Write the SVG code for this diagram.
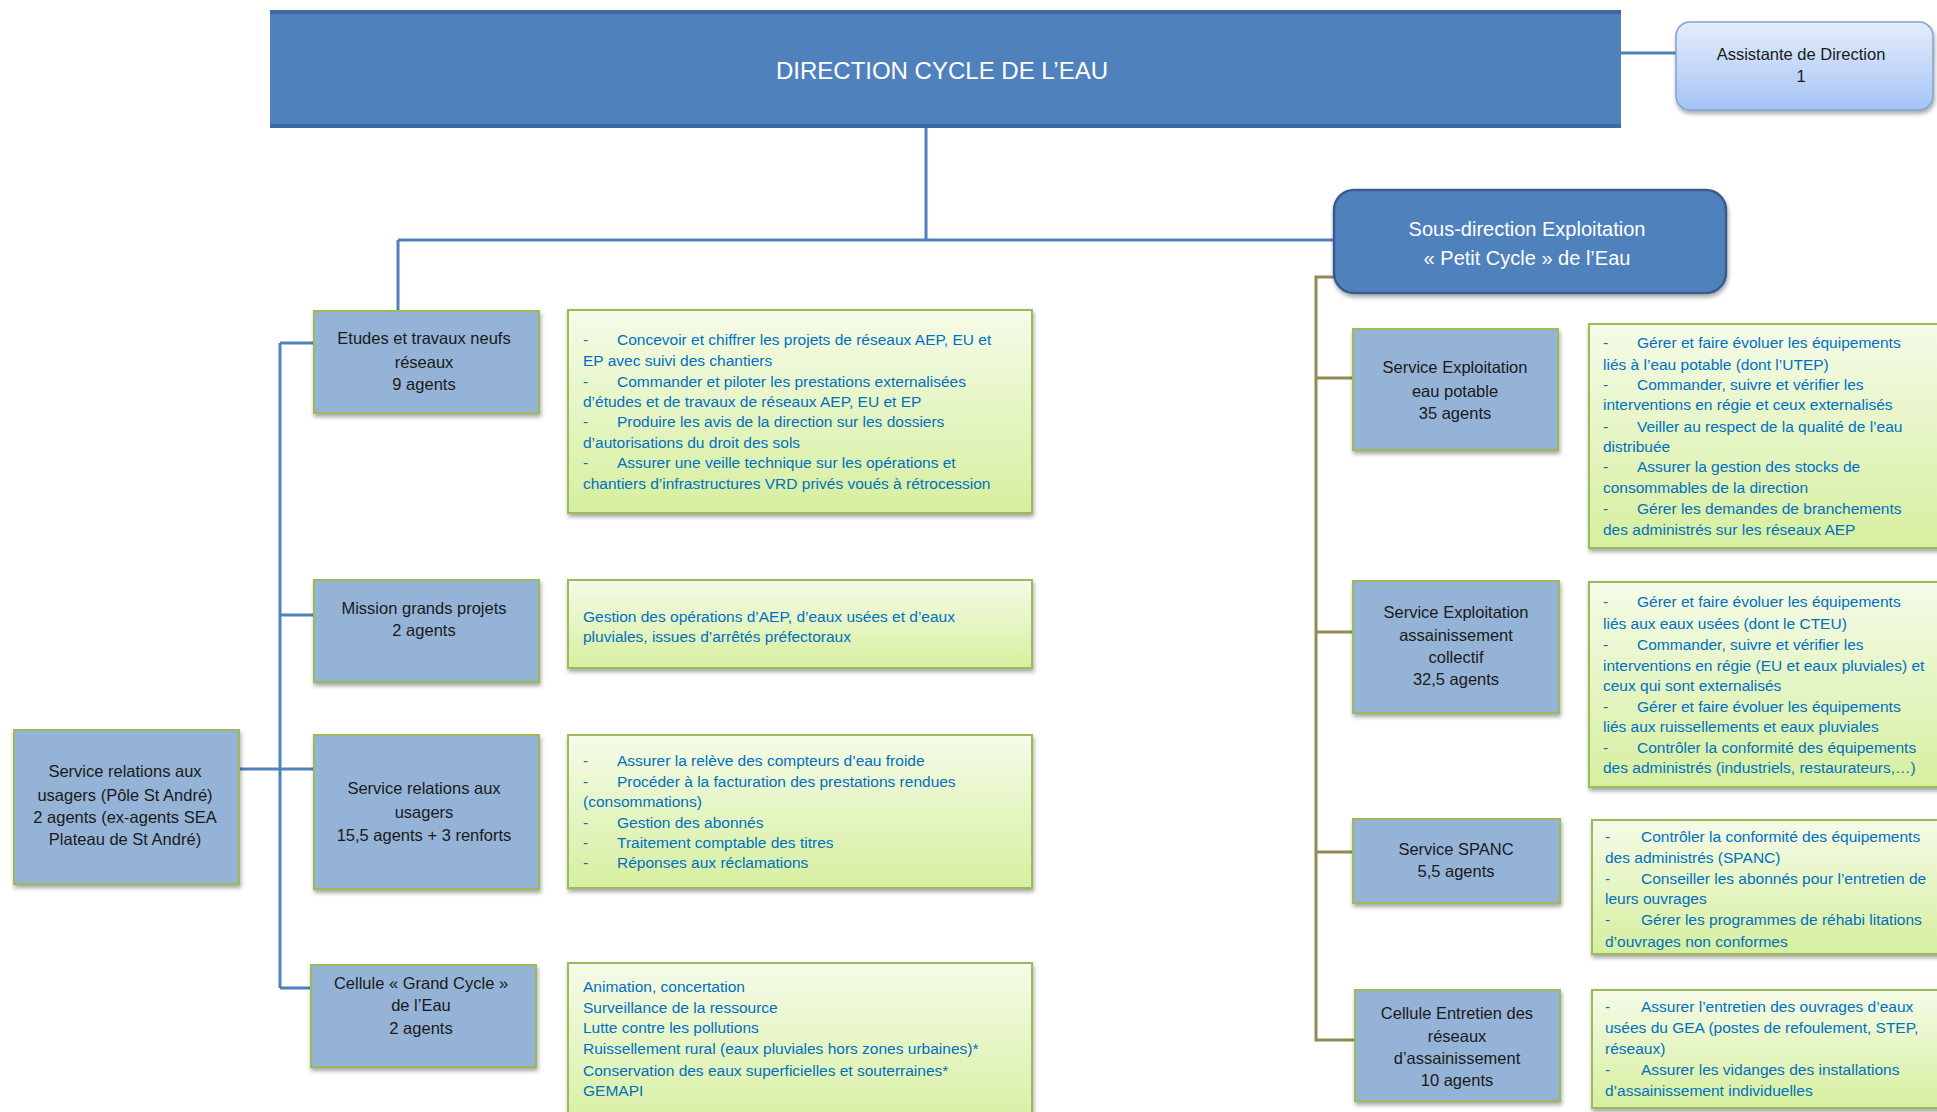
<svg xmlns="http://www.w3.org/2000/svg" width="1937" height="1112" viewBox="0 0 1937 1112">
<defs>
<linearGradient id="gGreen" x1="0" y1="0" x2="0" y2="1">
<stop offset="0" stop-color="#F5FBE8"/>
<stop offset="1" stop-color="#D6EF9F"/>
</linearGradient>
<linearGradient id="gAssist" x1="0" y1="0" x2="0" y2="1">
<stop offset="0" stop-color="#E4EDFB"/>
<stop offset="1" stop-color="#A5C4F6"/>
</linearGradient>
<filter id="sh" x="-10%" y="-10%" width="130%" height="140%">
<feDropShadow dx="1" dy="3" stdDeviation="2" flood-color="#000" flood-opacity="0.35"/>
</filter>
</defs>
<style>
.node{fill:#95B3D7;stroke:#9BBB59;stroke-width:2;filter:url(#sh)}
.desc{fill:url(#gGreen);stroke:#9BBB59;stroke-width:2;filter:url(#sh)}
.nt{font-family:"Liberation Sans",Arial,sans-serif;font-size:16.5px;fill:#1a1a1a;text-anchor:middle}
.dt{font-family:"Liberation Sans",Arial,sans-serif;font-size:15.5px;fill:#0070C0}
.wt{font-family:"Liberation Sans",Arial,sans-serif;fill:#fff;text-anchor:middle}
.cb{fill:none;stroke:#4F81BD;stroke-width:3}
.co{fill:none;stroke:#948A54;stroke-width:3}
</style>
<rect width="1937" height="1112" fill="#fff"/>

<g id="connectors">
<path class="cb" d="M1621 53H1676"/>
<path class="cb" d="M926 127V240"/>
<path class="cb" d="M398 240H1334"/>
<path class="cb" d="M398 240V311"/>
<path class="cb" d="M280 343V988"/>
<path class="cb" d="M280 343H314"/>
<path class="cb" d="M280 615H314"/>
<path class="cb" d="M239 769H314"/>
<path class="cb" d="M280 988H311"/>
<path class="co" d="M1334 277H1316V1040H1355"/>
<path class="co" d="M1316 378H1353"/>
<path class="co" d="M1316 632H1353"/>
<path class="co" d="M1316 852H1353"/>
</g>

<g id="direction">
<rect x="270" y="11" width="1351" height="116" fill="#4F81BD"/>
<rect x="270" y="10" width="1351" height="4" fill="#3E6A9F"/>
<rect x="270" y="124" width="1351" height="4" fill="#3E6A9F"/>
<text class="wt" x="942" y="79" font-size="24">DIRECTION CYCLE DE L’EAU</text>
</g>

<g id="assistante">
<rect x="1676" y="22" width="257" height="88" rx="14" fill="url(#gAssist)" stroke="#7FA3D6" stroke-width="1.5" filter="url(#sh)"/>
<text class="nt" x="1801" y="60" font-size="16">Assistante de Direction</text>
<text class="nt" x="1801" y="82" font-size="16">1</text>
</g>

<g id="sous-direction">
<rect x="1334" y="190" width="392" height="103" rx="20" fill="#4F81BD" stroke="#385D8A" stroke-width="2.5" filter="url(#sh)"/>
<text class="wt" x="1527" y="236" font-size="20">Sous-direction Exploitation</text>
<text class="wt" x="1527" y="265" font-size="20">« Petit Cycle » de l’Eau</text>
</g>

<g id="etudes">
<rect class="node" x="314" y="311" width="225" height="102"/>
<text class="nt" x="424" y="344">Etudes et travaux neufs</text>
<text class="nt" x="424" y="368">réseaux</text>
<text class="nt" x="424" y="390">9 agents</text>
</g>
<g id="etudes-desc">
<rect class="desc" x="568" y="310" width="464" height="203"/>
<text class="dt" x="583" y="345">-<tspan x="617">Concevoir et chiffrer les projets de réseaux AEP, EU et</tspan></text>
<text class="dt" x="583" y="366">EP avec suivi des chantiers</text>
<text class="dt" x="583" y="387">-<tspan x="617">Commander et piloter les prestations externalisées</tspan></text>
<text class="dt" x="583" y="407">d’études et de travaux de réseaux AEP, EU et EP</text>
<text class="dt" x="583" y="427">-<tspan x="617">Produire les avis de la direction sur les dossiers</tspan></text>
<text class="dt" x="583" y="448">d’autorisations du droit des sols</text>
<text class="dt" x="583" y="468">-<tspan x="617">Assurer une veille technique sur les opérations et</tspan></text>
<text class="dt" x="583" y="489">chantiers d’infrastructures VRD privés voués à rétrocession</text>
</g>

<g id="mission">
<rect class="node" x="314" y="580" width="225" height="102"/>
<text class="nt" x="424" y="614">Mission grands projets</text>
<text class="nt" x="424" y="636">2 agents</text>
</g>
<g id="mission-desc">
<rect class="desc" x="568" y="580" width="464" height="88"/>
<text class="dt" x="583" y="622">Gestion des opérations d’AEP, d’eaux usées et d’eaux</text>
<text class="dt" x="583" y="642">pluviales, issues d’arrêtés préfectoraux</text>
</g>

<g id="pole-st-andre">
<rect class="node" x="14" y="730" width="225" height="154"/>
<text class="nt" x="125" y="777">Service relations aux</text>
<text class="nt" x="125" y="801">usagers (Pôle St André)</text>
<text class="nt" x="125" y="823">2 agents (ex-agents SEA</text>
<text class="nt" x="125" y="845">Plateau de St André)</text>
</g>

<g id="relations-usagers">
<rect class="node" x="314" y="735" width="225" height="154"/>
<text class="nt" x="424" y="794">Service relations aux</text>
<text class="nt" x="424" y="818">usagers</text>
<text class="nt" x="424" y="841">15,5 agents + 3 renforts</text>
</g>
<g id="relations-desc">
<rect class="desc" x="568" y="735" width="464" height="153"/>
<text class="dt" x="583" y="766">-<tspan x="617">Assurer la relève des compteurs d’eau froide</tspan></text>
<text class="dt" x="583" y="787">-<tspan x="617">Procéder à la facturation des prestations rendues</tspan></text>
<text class="dt" x="583" y="807">(consommations)</text>
<text class="dt" x="583" y="828">-<tspan x="617">Gestion des abonnés</tspan></text>
<text class="dt" x="583" y="848">-<tspan x="617">Traitement comptable des titres</tspan></text>
<text class="dt" x="583" y="868">-<tspan x="617">Réponses aux réclamations</tspan></text>
</g>

<g id="grand-cycle">
<rect class="node" x="311" y="965" width="225" height="102"/>
<text class="nt" x="421" y="989">Cellule « Grand Cycle »</text>
<text class="nt" x="421" y="1011">de l’Eau</text>
<text class="nt" x="421" y="1034">2 agents</text>
</g>
<g id="grand-cycle-desc">
<rect class="desc" x="568" y="963" width="464" height="170"/>
<text class="dt" x="583" y="992">Animation, concertation</text>
<text class="dt" x="583" y="1013">Surveillance de la ressource</text>
<text class="dt" x="583" y="1033">Lutte contre les pollutions</text>
<text class="dt" x="583" y="1054">Ruissellement rural (eaux pluviales hors zones urbaines)*</text>
<text class="dt" x="583" y="1076">Conservation des eaux superficielles et souterraines*</text>
<text class="dt" x="583" y="1096">GEMAPI</text>
</g>

<g id="eau-potable">
<rect class="node" x="1353" y="329" width="205" height="121"/>
<text class="nt" x="1455" y="373">Service Exploitation</text>
<text class="nt" x="1455" y="397">eau potable</text>
<text class="nt" x="1455" y="419">35 agents</text>
</g>
<g id="eau-potable-desc">
<rect class="desc" x="1589" y="324" width="360" height="224"/>
<text class="dt" x="1603" y="348">-<tspan x="1637">Gérer et faire évoluer les équipements</tspan></text>
<text class="dt" x="1603" y="370">liés à l’eau potable (dont l’UTEP)</text>
<text class="dt" x="1603" y="390">-<tspan x="1637">Commander, suivre et vérifier les</tspan></text>
<text class="dt" x="1603" y="410">interventions en régie et ceux externalisés</text>
<text class="dt" x="1603" y="432">-<tspan x="1637">Veiller au respect de la qualité de l’eau</tspan></text>
<text class="dt" x="1603" y="452">distribuée</text>
<text class="dt" x="1603" y="472">-<tspan x="1637">Assurer la gestion des stocks de</tspan></text>
<text class="dt" x="1603" y="493">consommables de la direction</text>
<text class="dt" x="1603" y="514">-<tspan x="1637">Gérer les demandes de branchements</tspan></text>
<text class="dt" x="1603" y="535">des administrés sur les réseaux AEP</text>
</g>

<g id="assainissement">
<rect class="node" x="1353" y="581" width="206" height="132"/>
<text class="nt" x="1456" y="618">Service Exploitation</text>
<text class="nt" x="1456" y="641">assainissement</text>
<text class="nt" x="1456" y="663">collectif</text>
<text class="nt" x="1456" y="685">32,5 agents</text>
</g>
<g id="assainissement-desc">
<rect class="desc" x="1589" y="582" width="360" height="205"/>
<text class="dt" x="1603" y="607">-<tspan x="1637">Gérer et faire évoluer les équipements</tspan></text>
<text class="dt" x="1603" y="629">liés aux eaux usées (dont le CTEU)</text>
<text class="dt" x="1603" y="650">-<tspan x="1637">Commander, suivre et vérifier les</tspan></text>
<text class="dt" x="1603" y="671">interventions en régie (EU et eaux pluviales) et</text>
<text class="dt" x="1603" y="691">ceux qui sont externalisés</text>
<text class="dt" x="1603" y="712">-<tspan x="1637">Gérer et faire évoluer les équipements</tspan></text>
<text class="dt" x="1603" y="732">liés aux ruissellements et eaux pluviales</text>
<text class="dt" x="1603" y="753">-<tspan x="1637">Contrôler la conformité des équipements</tspan></text>
<text class="dt" x="1603" y="773">des administrés (industriels, restaurateurs,…)</text>
</g>

<g id="spanc">
<rect class="node" x="1353" y="819" width="207" height="84"/>
<text class="nt" x="1456" y="855">Service SPANC</text>
<text class="nt" x="1456" y="877">5,5 agents</text>
</g>
<g id="spanc-desc">
<rect class="desc" x="1592" y="820" width="360" height="134"/>
<text class="dt" x="1605" y="842">-<tspan x="1641">Contrôler la conformité des équipements</tspan></text>
<text class="dt" x="1605" y="863">des administrés (SPANC)</text>
<text class="dt" x="1605" y="884">-<tspan x="1641">Conseiller les abonnés pour l’entretien de</tspan></text>
<text class="dt" x="1605" y="904">leurs ouvrages</text>
<text class="dt" x="1605" y="925">-<tspan x="1641">Gérer les programmes de réhabi litations</tspan></text>
<text class="dt" x="1605" y="947">d’ouvrages non conformes</text>
</g>

<g id="entretien">
<rect class="node" x="1355" y="990" width="205" height="111"/>
<text class="nt" x="1457" y="1019">Cellule Entretien des</text>
<text class="nt" x="1457" y="1042">réseaux</text>
<text class="nt" x="1457" y="1064">d’assainissement</text>
<text class="nt" x="1457" y="1086">10 agents</text>
</g>
<g id="entretien-desc">
<rect class="desc" x="1592" y="990" width="360" height="118"/>
<text class="dt" x="1605" y="1012">-<tspan x="1641">Assurer l’entretien des ouvrages d’eaux</tspan></text>
<text class="dt" x="1605" y="1033">usées du GEA (postes de refoulement, STEP,</text>
<text class="dt" x="1605" y="1054">réseaux)</text>
<text class="dt" x="1605" y="1075">-<tspan x="1641">Assurer les vidanges des installations</tspan></text>
<text class="dt" x="1605" y="1096">d’assainissement individuelles</text>
</g>
</svg>
